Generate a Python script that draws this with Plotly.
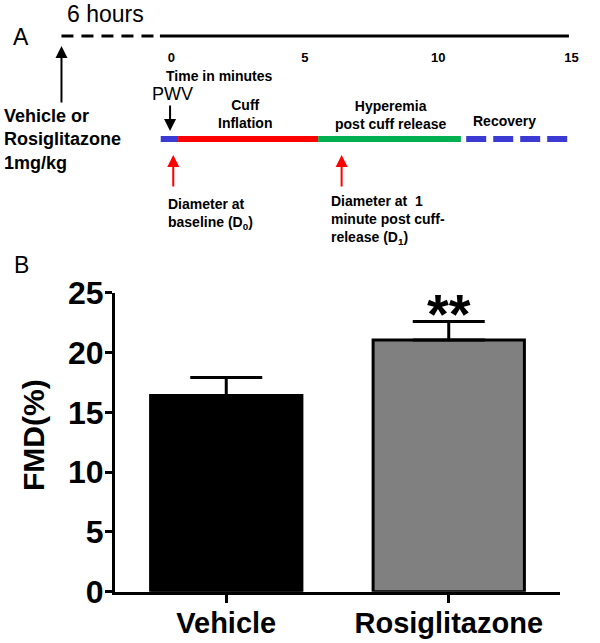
import plotly.graph_objects as go

W, H = 600, 643
FONT = "Liberation Sans"

# ---------------- Panel B data ----------------
groups = ["Vehicle", "Rosiglitazone"]
fmd_mean = [16.4, 21.05]
fmd_sem = [1.5, 1.55]
bar_colors = ["#000000", "#808080"]
significance = ["", "**"]
y_ticks = [0, 5, 10, 15, 20, 25]

# ---------------- Panel A data (minutes) ----------------
time_ticks = [0, 5, 10, 15]
phase_names = ["Baseline", "Cuff inflation", "Hyperemia", "Recovery"]
phase_start = [-0.4, 0.25, 5.5, 11.05]
phase_end = [0.25, 5.5, 10.85, 15.05]
phase_colors = ["#3b3bd4", "#ff0000", "#00b050", "#3b3bd4"]
phase_dash = ["solid", "solid", "solid", "20px,7px"]
dosing_time = -4.12          # vehicle / rosiglitazone dosing (6 h before)
pre_period_end = -0.43       # end of 6 hour wait
timeline_end = 14.9
pwv_time = -0.05
measure_times = [0.07, 6.38]  # D0 and D1

def px(x):
    return x / W

def py(y):
    return 1 - y / H

fig = go.Figure()

# ---- bar chart ----
fig.add_trace(go.Bar(
    x=groups, y=fmd_mean, width=0.68,
    marker=dict(color=bar_colors, line=dict(color="black", width=3)),
    error_y=dict(type="data", symmetric=False, array=fmd_sem,
                 arrayminus=[0] * len(fmd_sem), color="black",
                 thickness=3, width=36),
    xaxis="x", yaxis="y", showlegend=False,
))

# ---- timeline ----
LINE_Y = 36
BAR_Y = 139
fig.add_trace(go.Scatter(
    x=[dosing_time, pre_period_end], y=[LINE_Y, LINE_Y], mode="lines",
    line=dict(color="black", width=3, dash="12px,8px"),
    xaxis="x2", yaxis="y2", showlegend=False, hoverinfo="skip"))
fig.add_trace(go.Scatter(
    x=[pre_period_end, timeline_end], y=[LINE_Y, LINE_Y], mode="lines",
    line=dict(color="black", width=3),
    xaxis="x2", yaxis="y2", showlegend=False, hoverinfo="skip"))
for name, s, e, c, d in zip(phase_names, phase_start, phase_end, phase_colors, phase_dash):
    fig.add_trace(go.Scatter(
        x=[s, e], y=[BAR_Y, BAR_Y], mode="lines", name=name,
        line=dict(color=c, width=6, dash=d),
        xaxis="x2", yaxis="y2", showlegend=False, hoverinfo="skip"))

ann = []

def text(t, x, y, size, bold=False, xanchor="center", xref="paper", yref="y2", **kw):
    if bold:
        t = "<br>".join("<b>%s</b>" % line for line in t.split("<br>"))
    ann.append(dict(text=t, x=x, y=y, xref=xref, yref=yref,
                    xanchor=xanchor, yanchor="middle", showarrow=False,
                    align=xanchor if xanchor != "center" else "center",
                    font=dict(family=FONT, size=size, color="black"), **kw))

def arrow(x, tip_y, tail_y, color):
    ann.append(dict(text="", x=x, y=tip_y, xref="x2", yref="y2", ax=0, ay=tail_y - tip_y,
                    axref="pixel", ayref="pixel", showarrow=True, arrowhead=2,
                    arrowsize=1.2, arrowwidth=2, arrowcolor=color, standoff=0))

text("A", px(21), 37, 23)
text("6 hours", px(65), 14, 23, xanchor="left")
text("Vehicle or<br>Rosiglitazone<br>1mg/kg", px(2), 139.5, 18, bold=True, xanchor="left")
text("Time in minutes", px(219.5), 76, 14, bold=True)
text("PWV", px(172), 94, 18)
text("Cuff<br>Inflation", px(245), 114, 14, bold=True)
text("Hyperemia<br>post cuff release", px(390), 114.5, 14, bold=True)
text("Recovery", px(504), 121, 14, bold=True)
text("Diameter at<br>baseline (D<sub>0</sub>)", px(166), 214, 14, bold=True, xanchor="left")
text("Diameter at  1<br>minute post cuff-<br>release (D<sub>1</sub>)", px(329), 219.5, 14,
     bold=True, xanchor="left")
text("B", px(21), 265, 23)

arrow(dosing_time, 46, 104, "black")
arrow(pwv_time, 131, 104, "black")
for t in measure_times:
    arrow(t, 155, 188, "red")

# Panel B titles and significance
ann.append(dict(text="<b>FMD(%)</b>", x=px(33), y=py(435), xref="paper", yref="paper",
                textangle=-90, showarrow=False, xanchor="center", yanchor="middle",
                font=dict(family=FONT, size=30, color="black")))
for g, m, s, sig in zip(groups, fmd_mean, fmd_sem, significance):
    if sig:
        ann.append(dict(text="<b>%s</b>" % sig, x=g, y=m + s, xref="x", yref="y",
                        showarrow=False, xanchor="center", yanchor="bottom", yshift=-26,
                        font=dict(family=FONT, size=56, color="black")))

fig.update_layout(
    width=W, height=H, margin=dict(l=0, r=0, t=0, b=0, autoexpand=False),
    paper_bgcolor="white", plot_bgcolor="rgba(0,0,0,0)", hovermode=False,
    annotations=ann,
    xaxis=dict(domain=[px(115), px(560)], range=[-0.5, 1.5], anchor="y",
               showline=True, linecolor="black", linewidth=3, automargin=False,
               ticks="outside", ticklen=8, tickwidth=3, tickcolor="black",
               ticklabelstandoff=-5,
               tickfont=dict(family=FONT, size=29, color="black", weight="bold"),
               showgrid=False, zeroline=False, fixedrange=True),
    yaxis=dict(domain=[py(591.7), py(292.7)], range=[0, 25], anchor="x",
               tickvals=y_ticks, showline=True, linecolor="black", linewidth=3,
               ticks="outside", ticklen=7, tickwidth=3, tickcolor="black", automargin=False,
               ticklabelstandoff=-5,
               tickfont=dict(family=FONT, size=32, color="black", weight="bold"),
               showgrid=False, zeroline=False, fixedrange=True),
    xaxis2=dict(domain=[0, 1], range=[-171.4 / 26.68, (W - 171.4) / 26.68],
                anchor="free", position=py(48), tickvals=time_ticks, automargin=False,
                showline=False, ticks="", showgrid=False, zeroline=False,
                tickfont=dict(family=FONT, size=13, color="black", weight="bold")),
    yaxis2=dict(domain=[0, 1], range=[H, 0], anchor="x2", visible=False,
                showgrid=False, zeroline=False, automargin=False),
)

fig.write_html("out.html", post_script="document.body.style.margin='0';",
               config={"displayModeBar": False, "staticPlot": True})
